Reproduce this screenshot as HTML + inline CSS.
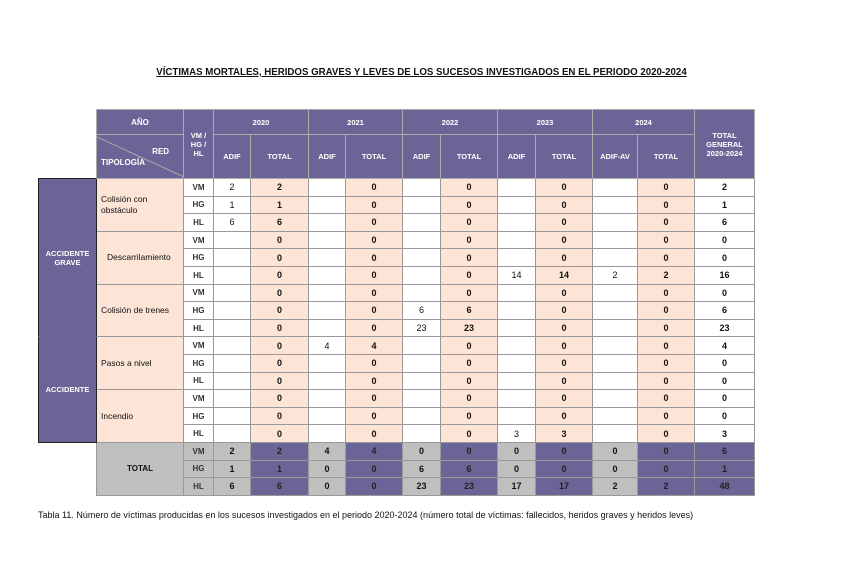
<!DOCTYPE html>
<html><head><meta charset="utf-8"><style>
body{margin:0;width:843px;height:563px;background:#fff;position:relative;font-family:"Liberation Sans",Arial,sans-serif;overflow:hidden}
.title{position:absolute;left:0;width:843px;top:67px;text-align:center;font-size:9.7px;font-weight:bold;text-decoration:underline;color:#111}
.cap{position:absolute;left:38px;top:510px;font-size:9px;color:#111}
table{position:absolute;left:38px;top:109px;border-collapse:collapse;table-layout:fixed}
td{padding:0;text-align:center;font-size:9px;border:1px solid #999;overflow:hidden;white-space:nowrap;color:#111}
td.h{background:#6A6596;color:#fff;font-weight:bold;font-size:7.5px;border:1.5px solid #aaa}
td.n{border:none;background:#fff}
td.g{background:#6A6596;color:#fff;font-weight:bold;font-size:7.5px;border:1px solid #6A6596;border-right:1px solid #222;border-left:1px solid #222}
td.t{background:#FCE4D6;text-align:left;padding-left:4px;font-size:8.5px;line-height:11px;white-space:normal}
td.c{font-size:8px;font-weight:bold;color:#333}
td.p{background:#FCE4D6;font-weight:bold}
td.b{font-weight:bold}
tr.top td:not(.g){border-top:1.5px solid #111}
td.gr{background:#BFBFBF;font-weight:bold}
td.pu{background:#6A6596;font-weight:bold;color:#222}
tr.d{height:17.6px}
</style></head><body>
<div class="title">VÍCTIMAS MORTALES, HERIDOS GRAVES Y LEVES DE LOS SUCESOS INVESTIGADOS EN EL PERIODO 2020-2024</div>
<table>
<colgroup><col style="width:58px"><col style="width:87px"><col style="width:30px"><col style="width:37px"><col style="width:58px"><col style="width:37px"><col style="width:57px"><col style="width:38px"><col style="width:57px"><col style="width:38px"><col style="width:57px"><col style="width:45px"><col style="width:57px"><col style="width:60px"></colgroup>
<tr style="height:25px"><td class="n"></td><td class="h" style="font-size:8px">AÑO</td><td class="h" rowspan="2" style="line-height:9px">VM /<br>HG /<br>HL</td><td class="h" colspan="2">2020</td><td class="h" colspan="2">2021</td><td class="h" colspan="2">2022</td><td class="h" colspan="2">2023</td><td class="h" colspan="2">2024</td><td class="h" rowspan="2" style="line-height:9px">TOTAL<br>GENERAL<br>2020-2024</td></tr>
<tr style="height:44px"><td class="n"></td><td class="h" style="position:relative"><svg width="87" height="44" style="position:absolute;left:0;top:0"><line x1="0" y1="2" x2="87" y2="42" stroke="#aaa" stroke-width="1"/></svg><div style="position:relative;text-align:right;padding-right:14px;font-size:8px">RED</div><div style="position:relative;text-align:left;padding-left:4px;font-size:8px;margin-top:2px">TIPOLOGÍA</div></td><td class="h">ADIF</td><td class="h">TOTAL</td><td class="h">ADIF</td><td class="h">TOTAL</td><td class="h">ADIF</td><td class="h">TOTAL</td><td class="h">ADIF</td><td class="h">TOTAL</td><td class="h">ADIF-AV</td><td class="h">TOTAL</td></tr>
<tr class="d top"><td class="g" rowspan="9" style="border-top:1px solid #222">ACCIDENTE<br>GRAVE</td><td class="t" rowspan="3">Colisión con<br>obstáculo</td><td class="c">VM</td><td>2</td><td class="p">2</td><td></td><td class="p">0</td><td></td><td class="p">0</td><td></td><td class="p">0</td><td></td><td class="p">0</td><td class="b">2</td></tr>
<tr class="d"><td class="c">HG</td><td>1</td><td class="p">1</td><td></td><td class="p">0</td><td></td><td class="p">0</td><td></td><td class="p">0</td><td></td><td class="p">0</td><td class="b">1</td></tr>
<tr class="d"><td class="c">HL</td><td>6</td><td class="p">6</td><td></td><td class="p">0</td><td></td><td class="p">0</td><td></td><td class="p">0</td><td></td><td class="p">0</td><td class="b">6</td></tr>
<tr class="d top"><td class="t" rowspan="3" style="padding-left:10px">Descarrilamiento</td><td class="c">VM</td><td></td><td class="p">0</td><td></td><td class="p">0</td><td></td><td class="p">0</td><td></td><td class="p">0</td><td></td><td class="p">0</td><td class="b">0</td></tr>
<tr class="d"><td class="c">HG</td><td></td><td class="p">0</td><td></td><td class="p">0</td><td></td><td class="p">0</td><td></td><td class="p">0</td><td></td><td class="p">0</td><td class="b">0</td></tr>
<tr class="d"><td class="c">HL</td><td></td><td class="p">0</td><td></td><td class="p">0</td><td></td><td class="p">0</td><td>14</td><td class="p">14</td><td>2</td><td class="p">2</td><td class="b">16</td></tr>
<tr class="d top"><td class="t" rowspan="3">Colisión de trenes</td><td class="c">VM</td><td></td><td class="p">0</td><td></td><td class="p">0</td><td></td><td class="p">0</td><td></td><td class="p">0</td><td></td><td class="p">0</td><td class="b">0</td></tr>
<tr class="d"><td class="c">HG</td><td></td><td class="p">0</td><td></td><td class="p">0</td><td>6</td><td class="p">6</td><td></td><td class="p">0</td><td></td><td class="p">0</td><td class="b">6</td></tr>
<tr class="d"><td class="c">HL</td><td></td><td class="p">0</td><td></td><td class="p">0</td><td>23</td><td class="p">23</td><td></td><td class="p">0</td><td></td><td class="p">0</td><td class="b">23</td></tr>
<tr class="d top"><td class="g" rowspan="6" style="border-bottom:1px solid #222">ACCIDENTE</td><td class="t" rowspan="3">Pasos a nivel</td><td class="c">VM</td><td></td><td class="p">0</td><td>4</td><td class="p">4</td><td></td><td class="p">0</td><td></td><td class="p">0</td><td></td><td class="p">0</td><td class="b">4</td></tr>
<tr class="d"><td class="c">HG</td><td></td><td class="p">0</td><td></td><td class="p">0</td><td></td><td class="p">0</td><td></td><td class="p">0</td><td></td><td class="p">0</td><td class="b">0</td></tr>
<tr class="d"><td class="c">HL</td><td></td><td class="p">0</td><td></td><td class="p">0</td><td></td><td class="p">0</td><td></td><td class="p">0</td><td></td><td class="p">0</td><td class="b">0</td></tr>
<tr class="d top"><td class="t" rowspan="3">Incendio</td><td class="c">VM</td><td></td><td class="p">0</td><td></td><td class="p">0</td><td></td><td class="p">0</td><td></td><td class="p">0</td><td></td><td class="p">0</td><td class="b">0</td></tr>
<tr class="d"><td class="c">HG</td><td></td><td class="p">0</td><td></td><td class="p">0</td><td></td><td class="p">0</td><td></td><td class="p">0</td><td></td><td class="p">0</td><td class="b">0</td></tr>
<tr class="d"><td class="c">HL</td><td></td><td class="p">0</td><td></td><td class="p">0</td><td></td><td class="p">0</td><td>3</td><td class="p">3</td><td></td><td class="p">0</td><td class="b">3</td></tr>
<tr class="d top"><td class="n" rowspan="3" style="border-top:1px solid #222"></td><td class="gr" rowspan="3" style="font-size:8px">TOTAL</td><td class="gr c">VM</td><td class="gr">2</td><td class="pu">2</td><td class="gr">4</td><td class="pu">4</td><td class="gr">0</td><td class="pu">0</td><td class="gr">0</td><td class="pu">0</td><td class="gr">0</td><td class="pu">0</td><td class="pu">6</td></tr>
<tr class="d"><td class="gr c">HG</td><td class="gr">1</td><td class="pu">1</td><td class="gr">0</td><td class="pu">0</td><td class="gr">6</td><td class="pu">6</td><td class="gr">0</td><td class="pu">0</td><td class="gr">0</td><td class="pu">0</td><td class="pu">1</td></tr>
<tr class="d"><td class="gr c">HL</td><td class="gr">6</td><td class="pu">6</td><td class="gr">0</td><td class="pu">0</td><td class="gr">23</td><td class="pu">23</td><td class="gr">17</td><td class="pu">17</td><td class="gr">2</td><td class="pu">2</td><td class="pu">48</td></tr>
</table>
<div class="cap">Tabla 11. Número de víctimas producidas en los sucesos investigados en el periodo 2020-2024 (número total de víctimas: fallecidos, heridos graves y heridos leves)</div>
</body></html>
